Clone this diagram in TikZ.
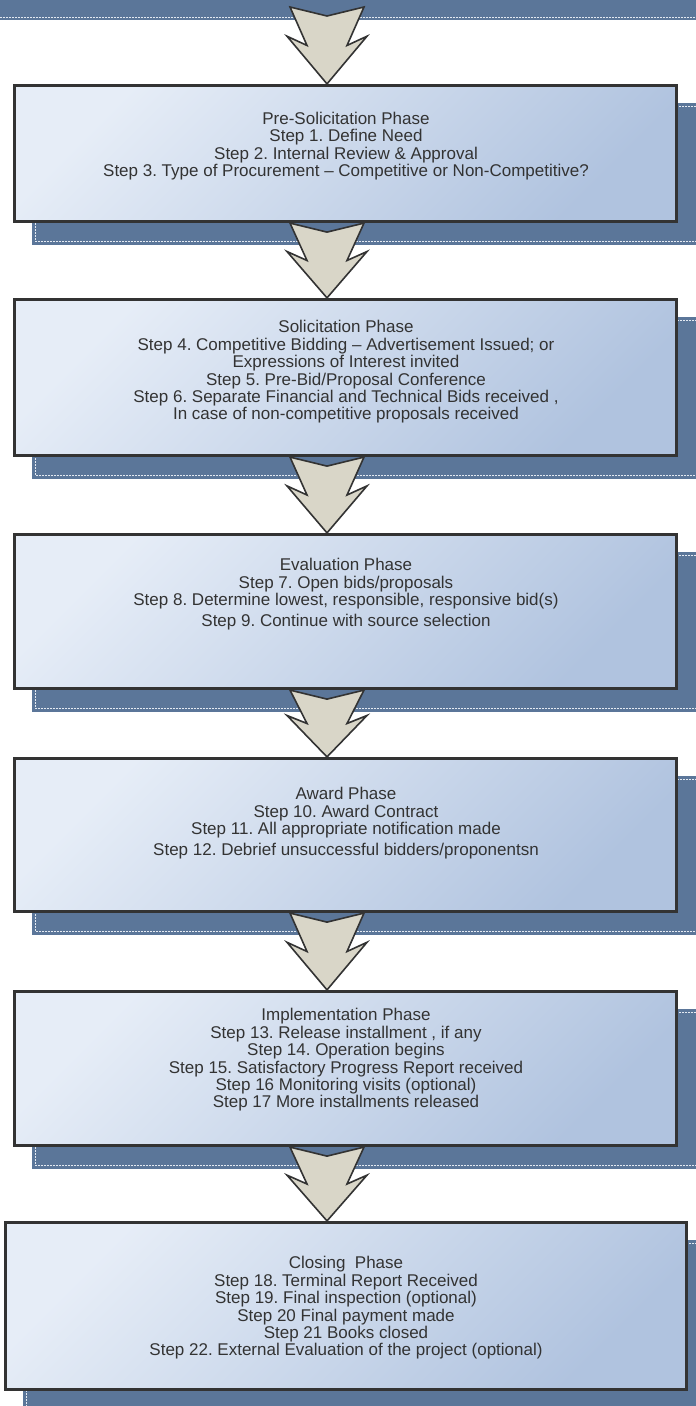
\documentclass[tikz,border=0pt]{standalone}
\usepackage{fontspec}
\setmainfont{Liberation Sans}
\usetikzlibrary{calc}
\pgfdeclarelayer{background}
\pgfsetlayers{background,main}
\definecolor{backblue}{HTML}{5B7699}
\definecolor{boxlight}{HTML}{E6EDF7}
\definecolor{boxdark}{HTML}{B0C3DF}
\definecolor{edgegray}{HTML}{333333}
\definecolor{arrowfill}{HTML}{D9D6C8}
\definecolor{txtgray}{HTML}{333333}
\definecolor{dashcol}{HTML}{E4EAF2}
\frenchspacing
\newcommand{\phasearrow}[2]{%
  \draw[bigarrow] ($(#1)+(-37,0)$) -- ($(#1)+(0,9)$) -- ($(#1)+(37,0)$)
    -- ($(#1)!0.50!(#2)+(20,0)$) -- ($(#1)!0.38!(#2)+(40,0)$) -- (#2)
    -- ($(#1)!0.38!(#2)+(-40,0)$) -- ($(#1)!0.50!(#2)+(-20,0)$) -- cycle;}
\begin{document}
\begin{tikzpicture}[x=1pt,y=-1pt,
  phasebox/.style={draw=edgegray, line width=3.2pt, top color=boxlight, bottom color=boxdark, shading angle=45, inner sep=0pt},
  backrect/.style={fill=backblue},
  dashrule/.style={draw=dashcol, line width=0.7pt, dash pattern=on 2pt off 1pt},
  phasetext/.style={text=txtgray, align=center, font=\frenchspacing\fontsize{17}{17.4}\selectfont, inner sep=0pt},
  bigarrow/.style={fill=arrowfill, draw=edgegray, line width=1.6pt, line join=miter}
]
\useasboundingbox (0,0) rectangle (696,1406);
\clip (0,0) rectangle (696,1406);

% front boxes
\node[phasebox, minimum width=662pt, minimum height=136pt] (b1) at (345.5,153.5) {};
\node[phasebox, minimum width=662pt, minimum height=156pt] (b2) at (345.5,377.5) {};
\node[phasebox, minimum width=662pt, minimum height=154pt] (b3) at (345.5,611.5) {};
\node[phasebox, minimum width=662pt, minimum height=153pt] (b4) at (345.5,835) {};
\node[phasebox, minimum width=662pt, minimum height=154pt] (b5) at (345.5,1068.5) {};
\node[phasebox, minimum width=681pt, minimum height=167pt] (b6) at (346,1306) {};

% texts
\node[phasetext] (t1) at (346,146) {Pre-Solicitation Phase\\Step 1. Define Need\\Step 2. Internal Review \& Approval\\Step 3. Type of Procurement -- Competitive or Non-Competitive?};
\node[phasetext] (t2) at (346,372) {Solicitation Phase\\Step 4. Competitive Bidding -- Advertisement Issued; or\\Expressions of Interest invited\\Step 5. Pre-Bid/Proposal Conference\\Step 6. Separate Financial and Technical Bids received ,\\In case of non-competitive proposals received};
\node[phasetext] (t3) at (346,594) {Evaluation Phase\\Step 7. Open bids/proposals\\Step 8. Determine lowest, responsible, responsive bid(s)\\[3pt]Step 9. Continue with source selection};
\node[phasetext] (t4) at (346,823) {Award Phase\\Step 10. Award Contract\\Step 11. All appropriate notification made\\[3pt]Step 12. Debrief unsuccessful bidders/proponentsn};
\node[phasetext] (t5) at (346,1060) {Implementation Phase\\Step 13. Release installment , if any\\Step 14. Operation begins\\Step 15. Satisfactory Progress Report received\\Step 16 Monitoring visits (optional)\\Step 17 More installments released};
\node[phasetext] (t6) at (346,1308) {Closing\ \ Phase\\Step 18. Terminal Report Received\\Step 19. Final inspection (optional)\\Step 20 Final payment made\\Step 21 Books closed\\Step 22. External Evaluation of the project (optional)};

% arrow anchor points
\coordinate (a0) at (327,7);
\coordinate (q1) at ($(b1.north)+(-18.5,0)$);
\coordinate (p1) at ($(b1.south)+(-18.5,0)$);
\coordinate (q2) at ($(b2.north)+(-18.5,0)$);
\coordinate (p2) at ($(b2.south)+(-18.5,0)$);
\coordinate (q3) at ($(b3.north)+(-18.5,0)$);
\coordinate (p3) at ($(b3.south)+(-18.5,0)$);
\coordinate (q4) at ($(b4.north)+(-18.5,0)$);
\coordinate (p4) at ($(b4.south)+(-18.5,0)$);
\coordinate (q5) at ($(b5.north)+(-18.5,0)$);
\coordinate (p5) at ($(b5.south)+(-18.5,0)$);
\coordinate (q6) at ($(b6.north)+(-19,0)$);

\begin{pgfonlayer}{background}
  \fill[backrect] (0,0) rectangle (696,20);
  \draw[dashrule] (0,17) -- (696,17);
  \foreach \b in {b1,b2,b3,b4,b5,b6} {
    \fill[backrect] ($(\b.north west)+(19,19)$) rectangle ($(\b.south east)+(40,22)$);
    \draw[dashrule] ($(\b.north west)+(22.5,22)$) rectangle ($(\b.south east)+(43,18)$);
  }
  \phasearrow{a0}{q1}
  \phasearrow{p1}{q2}
  \phasearrow{p2}{q3}
  \phasearrow{p3}{q4}
  \phasearrow{p4}{q5}
  \phasearrow{p5}{q6}
\end{pgfonlayer}
\end{tikzpicture}
\end{document}
